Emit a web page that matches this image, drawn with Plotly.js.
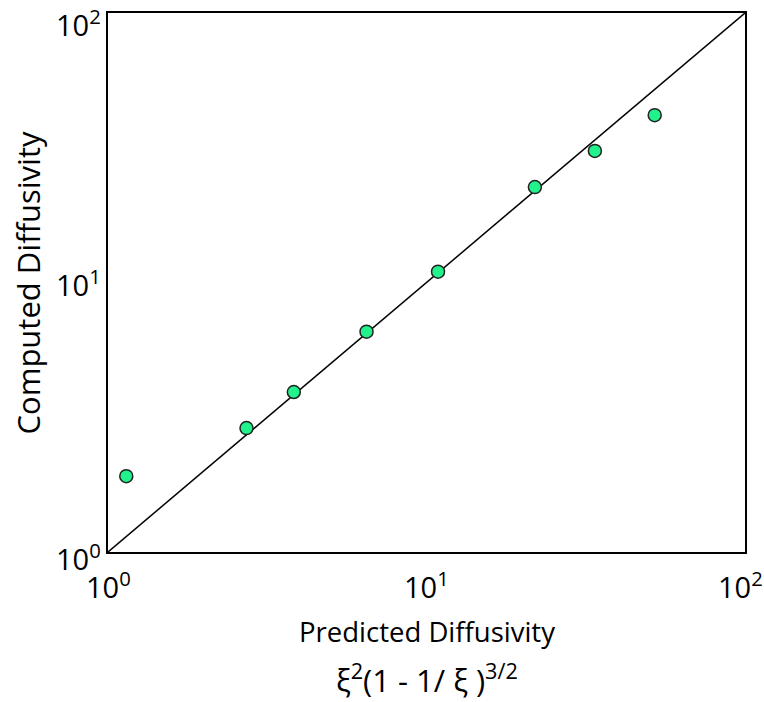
<!DOCTYPE html>
<html>
<head>
<meta charset="utf-8">
<script src="https://cdn.plot.ly/plotly-3.0.1.min.js"></script>
<style>html,body{margin:0;padding:0;background:#fff;}#chart{width:764px;height:702px;}</style>
</head>
<body>
<div id="chart"></div>
<script>
const predicted = [1.14, 2.72, 3.83, 6.48, 10.87, 21.9, 33.8, 52.1];
const computed = [1.91, 2.88, 3.92, 6.57, 10.97, 22.6, 30.8, 41.8];
const lineX = [1, 100];
const lineY = [1, 100];
const tickVals = [1, 10, 100];
const tickText = ['10<sup>0</sup>', '10<sup>1</sup>', '10<sup>2</sup>'];
const xTitle = 'Predicted Diffusivity';
const xFormula = 'ξ<sup>2</sup>(1 - 1/ ξ )<sup>3/2</sup>';
const yTitle = 'Computed Diffusivity';

const font = 'Open Sans';
const traces = [
  {x: lineX, y: lineY, mode: 'lines', line: {color: '#000', width: 1.5}, hoverinfo: 'skip'},
  {x: predicted, y: computed, mode: 'markers',
   marker: {size: 13, color: '#22f28c', line: {color: '#222', width: 1.5}}}
];
function axis() {
  return {
    type: 'log', range: [-0.0005, 2.0005], tickmode: 'array', tickvals: tickVals,
    showticklabels: false,
    showgrid: false, zeroline: false, showline: true, linecolor: '#000', linewidth: 2,
    mirror: true, ticks: ''
  };
}
const tickFont = {family: font, size: 29, color: '#000'};
const annotations = [];
tickVals.forEach((v, i) => {
  annotations.push({text: tickText[i], xref: 'x', yref: 'paper', x: Math.log10(v), y: 0,
    yanchor: 'top', yshift: -10, xshift: i === tickVals.length - 1 ? -4 : 0,
    showarrow: false, font: tickFont});
  annotations.push({text: tickText[i], xref: 'paper', yref: 'y', x: 0, y: Math.log10(v),
    xanchor: 'right', xshift: -5, yanchor: 'middle', yshift: [-5, 0, -10][i],
    showarrow: false, font: tickFont});
});
annotations.push(
  {text: xTitle, xref: 'paper', yref: 'paper', x: 0.5, y: -0.148, yanchor: 'middle', showarrow: false,
   font: {family: font, size: 27.5, color: '#000'}},
  {text: xFormula, xref: 'paper', yref: 'paper', x: 0.5, y: -0.235, yanchor: 'middle', showarrow: false,
   font: {family: font, size: 31, color: '#000'}},
  {text: yTitle, xref: 'paper', yref: 'paper', x: -0.1256, y: 0.5, xanchor: 'center', yanchor: 'middle',
   textangle: -90, showarrow: false, font: {family: font, size: 31, color: '#000'}}
);
const layout = {
  width: 764, height: 702,
  margin: {l: 108, r: 19, t: 13, b: 150},
  paper_bgcolor: '#fff', plot_bgcolor: '#fff',
  showlegend: false,
  xaxis: axis(),
  yaxis: axis(),
  annotations: annotations
};
Plotly.newPlot('chart', traces, layout, {displayModeBar: false, staticPlot: true});
</script>
</body>
</html>
